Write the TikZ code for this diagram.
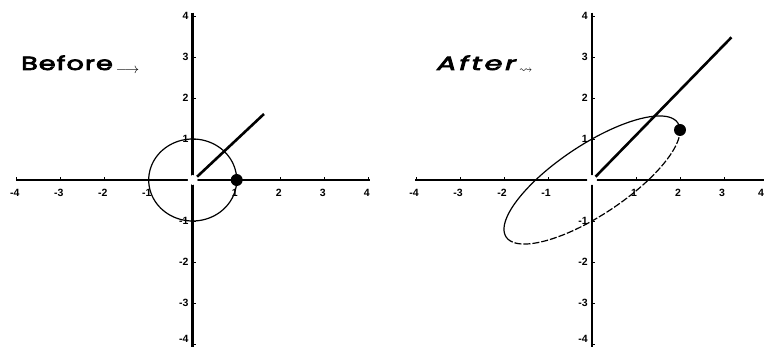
\documentclass[tikz,border=0pt]{standalone}
\usepackage{amssymb}
\usepackage{fontspec}
\setmainfont{Liberation Sans}
\newfontfamily\titlefont[LetterSpace=4,FakeBold=3.5]{Poppins}
\newfontfamily\titlefontit[LetterSpace=10,FakeBold=3.5]{Poppins Italic}
\begin{document}
\begin{tikzpicture}[x=1pt,y=1pt,
  axis/.style={line width=2.8pt},
  tickmark/.style={line width=0.8pt},
  ticklab/.style={font=\fontsize{10.5}{10.5}\selectfont\bfseries, inner sep=0pt},
  curve/.style={line width=1.2pt},
  vec/.style={line width=2.6pt},
  title/.style={font=\fontsize{19}{19}\selectfont, inner sep=0pt, anchor=base west}]
\useasboundingbox (0,0) rectangle (764,347);
\fill[white] (0,0) rectangle (764,347);
% ---------- Before ----------
\node[title] (tb) at (21,277) {\scalebox{1.42}[1]{\titlefont Before}\,\raisebox{-3.5pt}{$\scriptstyle\longrightarrow$}};
\begin{scope}[shift={(192.7,167)}, x=44pt, y=41pt]
  \draw[axis] (-4.02,0) -- (4.02,0);
  \draw[axis] (0,4.08) -- (0,-4.3);
  \foreach \i in {-4,-3,-2,-1,1,2,3,4} {
    \draw[tickmark] (\i,0) -- ++(0,3pt);
    \draw[tickmark] (0,\i) -- ++(3pt,0);
  }
  \foreach \i in {-4,-3,-2,-1,1,2,3,4}
    \node[ticklab, anchor=north] (bx\i) at ([xshift=-2pt,yshift=-9pt]\i,0) {\i};
  \foreach \i in {-3,-2,-1,1,2,3,4}
    \node[ticklab, anchor=east] (by\i) at ([xshift=-4pt]0,\i) {\i};
  \node[ticklab, anchor=south east] (by-4) at ([xshift=-4pt]0,-3.98) {-4};
  \fill[white] (0,0) circle[radius=5pt];
  \draw[curve] plot[domain=0:360, samples=120, smooth] ({cos(\x)},{sin(\x)});
  \coordinate (bs) at (0.1,0.08);
  \coordinate (be) at (1.62,1.61);
  \draw[vec] (bs) -- (be);
  \fill (1,0) circle[radius=6pt];
\end{scope}
% ---------- After ----------
\node[title] (ta) at (437,277) {\scalebox{1.5}[1]{\titlefontit After}\,\raisebox{-3.5pt}{$\scriptstyle\rightsquigarrow$}};
\begin{scope}[shift={(592,167)}, x=44pt, y=41pt]
  \draw[axis] (-4.02,0) -- (4.2,0);
  \draw[axis] (0,4.08) -- (0,-4.3);
  \foreach \i in {-4,-3,-2,-1,1,2,3,4} {
    \draw[tickmark] (\i,0) -- ++(0,3pt);
    \draw[tickmark] (0,\i) -- ++(3pt,0);
  }
  \foreach \i in {-4,-3,-2,-1,1,2,3}
    \node[ticklab, anchor=north] (ax\i) at ([xshift=-2pt,yshift=-9pt]\i,0) {\i};
  \node[ticklab, anchor=north east] (ax4) at ([yshift=-9pt]3.91,0) {4};
  \foreach \i in {-3,-2,-1,1,2,3,4}
    \node[ticklab, anchor=east] (ay\i) at ([xshift=-4pt]0,\i) {\i};
  \node[ticklab, anchor=south east] (ay-4) at ([xshift=-4pt]0,-3.98) {-4};
  \fill[white] (0,0) circle[radius=5pt];
  \draw[curve] plot[domain=0:195, samples=80, smooth] ({2*cos(\x)},{1.2*cos(\x)+sin(\x)});
  \draw[curve, dash pattern=on 7pt off 2pt] plot[domain=195:360, samples=80, smooth] ({2*cos(\x)},{1.2*cos(\x)+sin(\x)});
  \coordinate (as) at (0.08,0.08);
  \coordinate (ae) at (3.17,3.48);
  \draw[vec] (as) -- (ae);
  \fill (2,1.22) circle[radius=6pt];
\end{scope}
\end{tikzpicture}
\end{document}
